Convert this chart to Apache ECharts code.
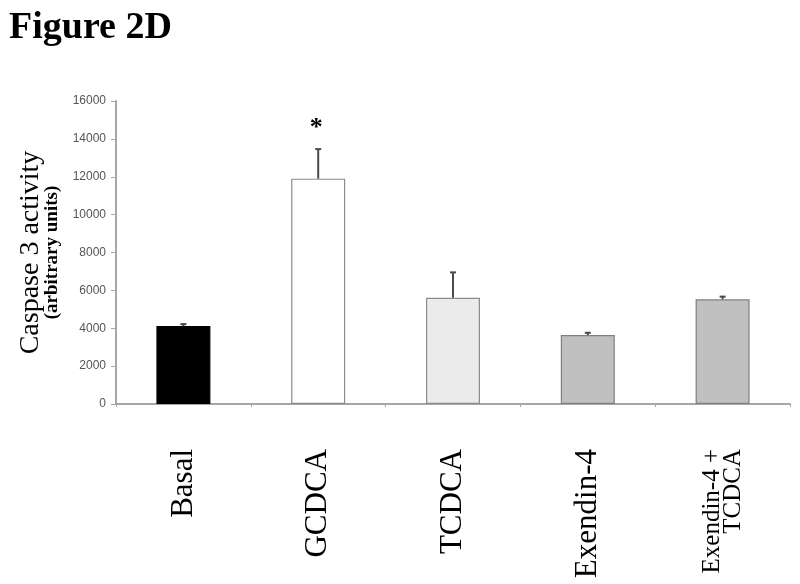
<!DOCTYPE html>
<html>
<head>
<meta charset="utf-8">
<script src="https://cdn.jsdelivr.net/npm/echarts@6/dist/echarts.min.js"></script>
<style>html,body{margin:0;padding:0;background:#fff}#c{width:800px;height:584px}</style>
</head>
<body>
<div id="c"></div>
<script>
const categories = ['Basal', 'GCDCA', 'TCDCA', 'Exendin-4', 'Exendin-4 +\nTCDCA'];
const means = [4120, 11900, 5610, 3640, 5530];
const sems = [100, 1560, 1340, 120, 140];
const annotations = ['', '*', '', '', ''];
const barColors = ['#000000', '#ffffff', '#ebebeb', '#c0c0c0', '#c0c0c0'];
const borderColors = ['#000000', '#8c8c8c', '#8c8c8c', '#808080', '#808080'];
const yTicks = { min: 0, max: 16000, interval: 2000 };

const chart = echarts.init(document.getElementById('c'));
const serif = '"Liberation Serif", "Times New Roman", serif';

const xData = categories.map((c, i) => i === 4
  ? { value: c, textStyle: { fontSize: 25, lineHeight: 21 } }
  : { value: c });

chart.setOption({
  animation: false,
  title: {
    text: 'Figure 2D', left: 4, top: 4,
    textStyle: { fontFamily: serif, fontWeight: 'bold', fontSize: 38, color: '#000' }
  },
  grid: { left: 116, right: 10, top: 101, bottom: 180 },
  xAxis: {
    type: 'category',
    data: xData,
    axisLine: { lineStyle: { color: '#a6a6a6', width: 2 } },
    axisTick: { show: true, length: 3, lineStyle: { color: '#a6a6a6' } },
    axisLabel: {
      rotate: 90, margin: 45, fontFamily: serif, fontSize: 31, color: '#000', interval: 0
    }
  },
  yAxis: {
    type: 'value', min: yTicks.min, max: yTicks.max, interval: yTicks.interval,
    splitLine: { show: false },
    axisLine: { show: true, lineStyle: { color: '#a6a6a6', width: 2 } },
    axisTick: { show: true, length: 5, lineStyle: { color: '#a6a6a6' } },
    axisLabel: {
      margin: 10, fontFamily: 'Arial, "Liberation Sans", sans-serif', fontSize: 12, color: '#555',
      formatter: function (v) { return String(v); }
    },
    name: '{a|Caspase 3 activity}\n{b|(arbitrary units)}',
    nameLocation: 'middle', nameRotate: 90, nameGap: 54,
    nameTextStyle: {
      rich: {
        a: { fontFamily: serif, fontSize: 28, color: '#000', lineHeight: 26, align: 'center' },
        b: { fontFamily: serif, fontSize: 19, fontWeight: 'bold', color: '#000', lineHeight: 18, align: 'center' }
      }
    }
  },
  series: [
    {
      type: 'bar', barWidth: 54,
      data: means.map((v, i) => ({
        value: v,
        itemStyle: { color: barColors[i], borderColor: borderColors[i], borderWidth: 1.2 }
      })),
      z: 2
    },
    {
      type: 'custom', z: 5,
      data: means.map((v, i) => [i, v, v + sems[i]]),
      encode: { x: 0, y: [1, 2] },
      renderItem: function (params, api) {
        const i = api.value(0);
        const p0 = api.coord([i, api.value(1)]);
        const p1 = api.coord([i, api.value(2)]);
        const cap = 3;
        const children = [
          { type: 'line', shape: { x1: p0[0], y1: p0[1], x2: p1[0], y2: p1[1] },
            style: { stroke: '#4a4a4a', lineWidth: 2 } },
          { type: 'line', shape: { x1: p1[0] - cap, y1: p1[1], x2: p1[0] + cap, y2: p1[1] },
            style: { stroke: '#4a4a4a', lineWidth: 2 } }
        ];
        const ann = annotations[params.dataIndex];
        if (ann) {
          children.push({
            type: 'text',
            style: {
              text: ann, x: p1[0] - 2, y: p1[1] - 21,
              fontFamily: serif, fontWeight: 'bold', fontSize: 26, fill: '#000',
              textAlign: 'center', textVerticalAlign: 'middle'
            }
          });
        }
        return { type: 'group', children: children };
      }
    }
  ]
});
</script>
</body>
</html>
